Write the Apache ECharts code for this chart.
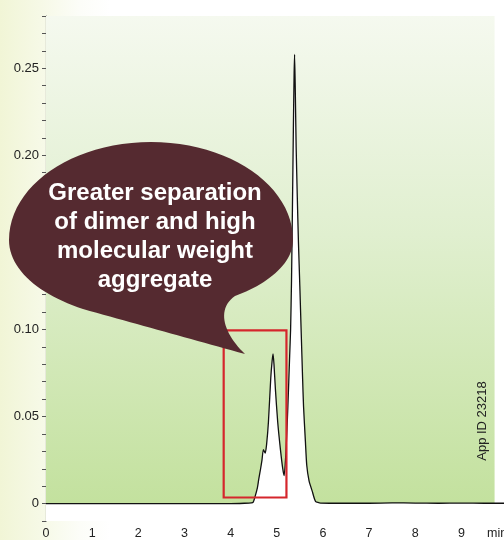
<!DOCTYPE html>
<html>
<head>
<meta charset="utf-8">
<script src="https://cdn.jsdelivr.net/npm/echarts@6/dist/echarts.min.js"></script>
<style>
html,body{margin:0;padding:0;}
#chart{width:504px;height:540px;background:linear-gradient(to right,#f1f5d6 0px,#f6f9e6 40px,#fcfdf8 80px,#ffffff 110px);}
</style>
</head>
<body>
<div id="chart"></div>
<script>
// Retention time (min)
const times = [0, 1, 2, 3, 4, 4.3, 4.45, 4.49, 4.53, 4.58, 4.61, 4.65, 4.68, 4.71, 4.75, 4.78, 4.82, 4.87, 4.90, 4.92, 4.94, 4.97, 5.02, 5.08, 5.13, 5.16,
  5.20, 5.24, 5.28, 5.30, 5.32, 5.34, 5.36, 5.375, 5.386, 5.40, 5.42, 5.445, 5.47, 5.50, 5.53, 5.56, 5.58, 5.62, 5.65, 5.70, 5.77, 5.84, 5.95,
  6.5, 7, 7.5, 8, 8.5, 9, 9.5, 10];
// Absorbance (AU)
const absorb = [0, 0, 0, 0, 0, 0.0002, 0.0004, 0.0008, 0.004, 0.009, 0.014, 0.020, 0.025, 0.031, 0.029, 0.034, 0.047, 0.072, 0.082, 0.086, 0.080, 0.066, 0.047, 0.031, 0.020, 0.016,
  0.030, 0.055, 0.085, 0.100, 0.128, 0.170, 0.215, 0.245, 0.258, 0.240, 0.205, 0.176, 0.150, 0.125, 0.098, 0.072, 0.056, 0.036, 0.022, 0.013, 0.007, 0.0013, 0.0003,
  0.0002, 0.0002, 0.0004, 0.0003, 0.0002, 0.0003, 0.0002, 0.0002];
const xTickLabels = ['0','1','2','3','4','5','6','7','8','9'];
const yTickLabels = ['0','0.05','0.10','0.15','0.20','0.25'];
const xUnit = 'min';
// highlighted region [tStart, tEnd, auLow, auHigh]
const highlightBox = [3.85, 5.21, 0.0035, 0.0995];
// shaded plot background extent [tStart, tEnd, auLow, auHigh]
const shadeArea = [0, 9.72, 0, 0.28];
const calloutLines = ['Greater separation', 'of dimer and high', 'molecular weight', 'aggregate'];
const appId = 'App ID 23218';

// speech-bubble outline (pixel-space cubic segments)
function bubblePoints() {
  const segs = [
    [[9,240],[9,186],[72,142],[151,142]],
    [[151,142],[230,142],[293,186],[293,240]],
    [[293,240],[293,265],[265,285],[235,296]],
    [[235,296],[215,310],[225,335],[245,354]],
    [[245,354],[191,339],[137,324],[83,309]],
    [[83,309],[40,295],[9,270],[9,240]]
  ];
  const pts = [];
  segs.forEach(s => {
    for (let k = 0; k < 24; k++) {
      const t = k / 24, u = 1 - t;
      const a = u*u*u, b = 3*u*u*t, c = 3*u*t*t, d = t*t*t;
      pts.push([a*s[0][0]+b*s[1][0]+c*s[2][0]+d*s[3][0], a*s[0][1]+b*s[1][1]+c*s[2][1]+d*s[3][1]]);
    }
  });
  return pts;
}

const chart = echarts.init(document.getElementById('chart'), null, {renderer: 'canvas'});
const data = times.map((t, i) => [t, absorb[i]]);

const option = {
  backgroundColor: 'transparent',
  animation: false,
  grid: {left: 46, right: 0, top: 16, bottom: 19, containLabel: false, outerBoundsMode: 'none'},
  xAxis: {
    type: 'value', min: 0, max: 9.924, interval: 1,
    axisLine: {lineStyle: {color: '#666', width: 1.2}},
    axisTick: {length: 5, lineStyle: {color: '#555'}},
    minorTick: {show: true, splitNumber: 5, length: 2.5, lineStyle: {color: '#555'}},
    splitLine: {show: false},
    axisLabel: {
      color: '#222', fontSize: 12.5, margin: 6, fontFamily: 'Liberation Sans, Arial, sans-serif', showMaxLabel: false,
      formatter: v => { const i = Math.round(v); return (Math.abs(v - i) < 1e-6 && i < xTickLabels.length) ? xTickLabels[i] : ''; }
    }
  },
  yAxis: {
    type: 'value', min: -0.01, max: 0.28, interval: 0.01,
    axisLine: {lineStyle: {color: '#666', width: 1.2}},
    axisTick: {length: 4, lineStyle: {color: '#555'}},
    splitLine: {show: false},
    axisLabel: {
      color: '#222', fontSize: 13, margin: 7, fontFamily: 'Liberation Sans, Arial, sans-serif',
      formatter: v => { const r = Math.round(v * 100); if (r < 0 || r % 5) return ''; return yTickLabels[r / 5] || ''; }
    }
  },
  series: [
    {
      // shaded plot background
      type: 'line', z: 1, silent: true, symbol: 'none',
      data: [[shadeArea[0], shadeArea[3]], [shadeArea[1], shadeArea[3]]],
      lineStyle: {width: 0, opacity: 0},
      areaStyle: {origin: shadeArea[2], opacity: 1, color: {type: 'linear', x: 0, y: 0, x2: 0, y2: 1, colorStops: [
        {offset: 0, color: '#f5f9ef'}, {offset: 0.45, color: '#e0efcf'}, {offset: 1, color: '#c3e19e'}]}}
    },
    {
      type: 'line', data: data, symbol: 'none', smooth: 0.2, z: 3,
      lineStyle: {color: '#111', width: 1.3},
      areaStyle: {color: '#ffffff', opacity: 1, origin: 'start'}
    },
    {
      type: 'line', data: [], symbol: 'none', z: 10,
      markArea: {
        silent: true, z: 10,
        itemStyle: {color: 'rgba(0,0,0,0)', borderColor: '#d5262c', borderWidth: 2.2},
        data: [[{xAxis: highlightBox[0], yAxis: highlightBox[3]}, {xAxis: highlightBox[1], yAxis: highlightBox[2]}]]
      }
    }
  ],
  graphic: [
    {
      type: 'polygon', z: 100,
      shape: {points: bubblePoints()},
      style: {fill: '#552a30'}
    },
    {
      type: 'text', z: 101, x: 155, y: 237,
      style: {text: calloutLines.join('\n'), fill: '#ffffff', font: 'bold 24px "Liberation Sans", Arial, sans-serif',
        align: 'center', verticalAlign: 'middle', lineHeight: 29}
    },
    {
      type: 'text', z: 101, x: 482, y: 421, rotation: Math.PI / 2,
      style: {text: appId, fill: '#222', font: '13px "Liberation Sans", Arial, sans-serif', align: 'center', verticalAlign: 'middle'}
    },
    {
      type: 'text', z: 101, x: 487, y: 534,
      style: {text: xUnit, fill: '#222', font: '12.5px "Liberation Sans", Arial, sans-serif', align: 'left', verticalAlign: 'middle'}
    }
  ]
};
chart.setOption(option);
</script>
</body>
</html>
